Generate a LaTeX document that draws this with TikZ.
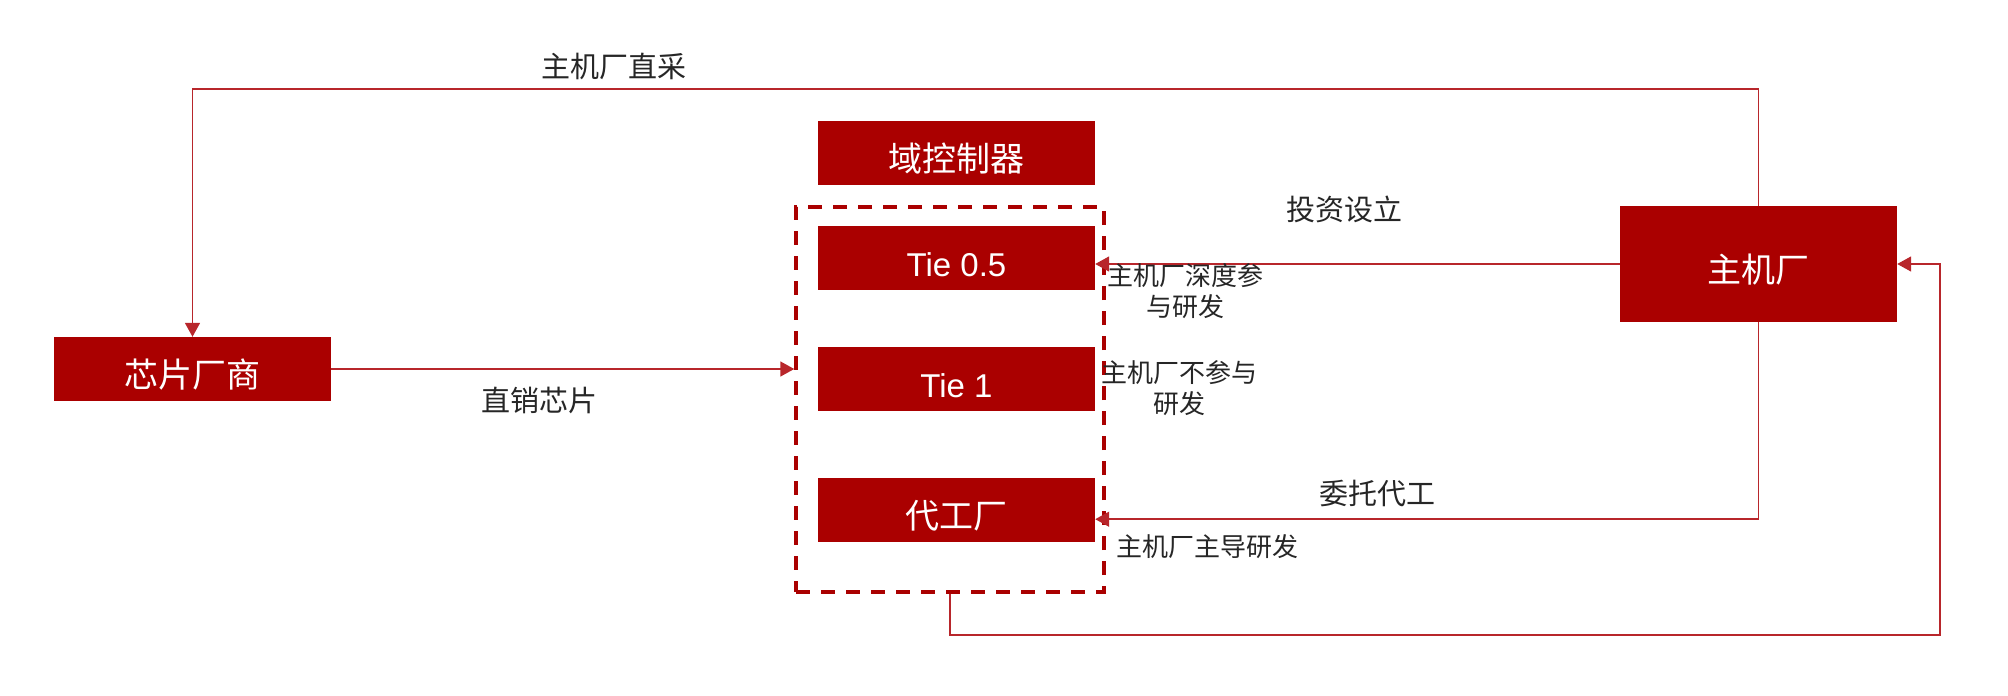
\documentclass[tikz,border=0pt]{standalone}
\usepackage{fontspec}
\setmainfont{Noto Sans CJK SC}
\newfontfamily\latinfont{Liberation Sans}
\usepackage{xcolor}
\usepackage{tikz}
\usetikzlibrary{arrows.meta, positioning, calc}
\definecolor{BoxRed}{HTML}{AA0000}
\definecolor{LinkRed}{HTML}{B8262B}
\definecolor{TextDark}{HTML}{262626}

\begin{document}
\begin{tikzpicture}[x=1pt, y=-1pt,
    redbox/.style={draw=none, fill=BoxRed, text=white, minimum width=277pt, minimum height=64pt, inner sep=0pt, text height=37pt, text depth=0pt, font=\fontsize{34}{40}\selectfont},
    link/.style={draw=LinkRed, line width=1.6pt, -{Triangle[length=14pt, width=15pt]}},
    lbl/.style={text=TextDark, inner sep=0pt, font=\fontsize{29}{35}\selectfont},
    note/.style={text=TextDark, inner sep=0pt, align=center, font=\fontsize{26}{31}\selectfont}]
        \useasboundingbox (0,0) rectangle (2008,696);

        % Nodes
        \node[draw=BoxRed, line width=3.5pt, dash pattern=on 14pt off 11pt, minimum width=308pt, minimum height=385pt, inner sep=0pt] (grp) at (950,399.5) {};
        \node[redbox] (ctrl) at (956.5,153) {域控制器};
        \node[redbox, below=41pt of ctrl] (tie05) {\latinfont\fontsize{33}{40}\selectfont Tie 0.5};
        \node[redbox, below=56pt of tie05] (tie1) {\latinfont\fontsize{33}{40}\selectfont Tie 1};
        \node[redbox, below=67pt of tie1] (foundry) {代工厂};
        \node[redbox] (chip) at (192.5,369) {芯片厂商};
        \node[redbox, minimum height=116pt] (oem) at (1758.5,264) {主机厂};
        \node[note, anchor=west, xshift=6pt, yshift=-9pt] (tie1note) at (tie1.east) {主机厂不参与\\研发};
        \coordinate (topline) at (0,89);
        \coordinate (loopcorner) at (1940,635);

        % Arrows
        \draw[link] (oem.north) -- (oem.north |- topline) -- node[lbl, pos=.731, yshift=23pt] {主机厂直采} (chip.north |- topline) -- (chip.north);
        \draw[link] (chip.east) -- node[lbl, pos=.45, yshift=-31pt] {直销芯片} (chip.east -| grp.west);
        \draw[link] (oem.west) -- node[lbl, pos=.524, yshift=55pt] {投资设立} node[note, pos=1, anchor=west, xshift=11pt, yshift=-27pt] {主机厂深度参\\与研发} (oem.west -| tie05.east);
        \draw[link] (oem.south) |- node[lbl, pos=.787, yshift=26pt] {委托代工} node[note, pos=1, anchor=west, xshift=20pt, yshift=-27pt] {主机厂主导研发} ($(foundry.east)+(0,9)$);
        \draw[link] (grp.south) |- (loopcorner) |- (oem.east);
\end{tikzpicture}
\end{document}
